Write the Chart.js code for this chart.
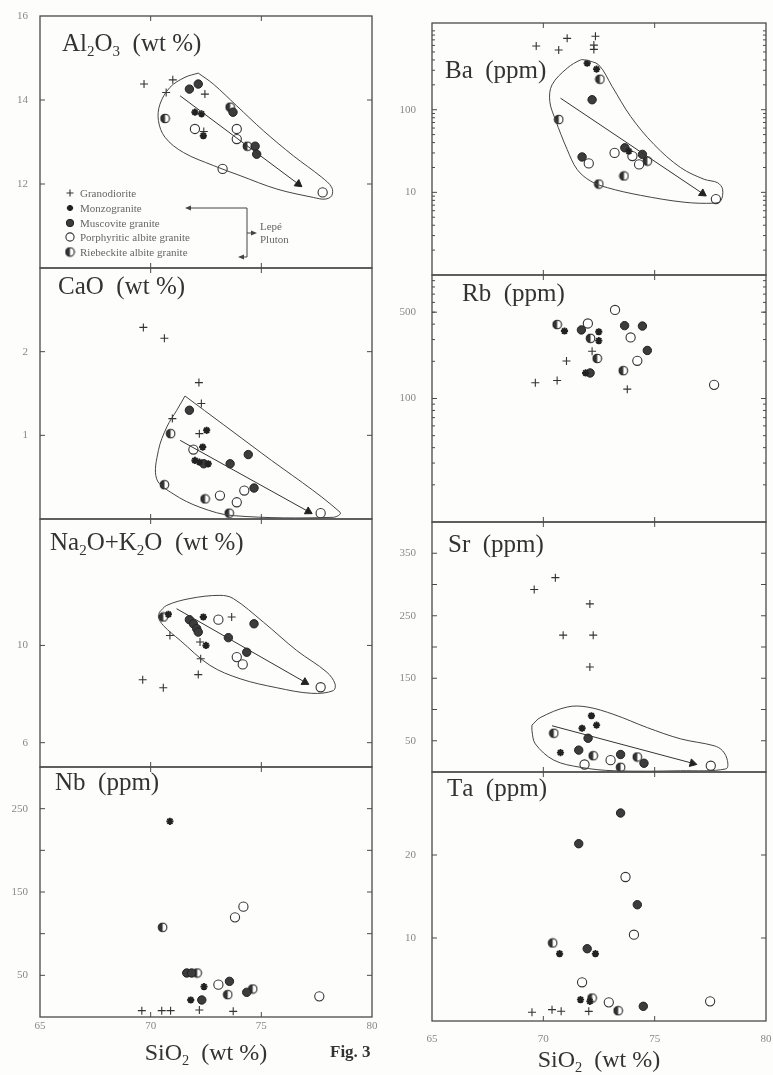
<!DOCTYPE html>
<html>
<head>
<meta charset="utf-8">
<script src="https://cdn.jsdelivr.net/npm/chart.js"></script>
<style>
  html, body { margin: 0; padding: 0; background: #fdfdfc; }
  #page { position: relative; width: 773px; height: 1075px; overflow: hidden; }
  .panel { position: absolute; }
  .panel canvas { display: block; }
</style>
</head>
<body>
<div id="page"></div>
<script>
const siTicks = [65, 70, 75, 80];
const serif = "'Liberation Serif', 'DejaVu Serif', serif";

// Al2O3 (wt %)  [SiO2, Al2O3]
const alGd = [[69.7, 14.38], [71.0, 14.48], [70.7, 14.18], [72.45, 14.14], [72.4, 13.25]];
const alMz = [[72.0, 13.71], [72.3, 13.67], [72.38, 13.15]];
const alMs = [[71.75, 14.26], [72.15, 14.38], [73.72, 13.71], [74.72, 12.9], [74.79, 12.71]];
const alPa = [[72.0, 13.31], [73.89, 13.31], [73.89, 13.07], [73.25, 12.36], [77.77, 11.8]];
const alRa = [[70.65, 13.56], [73.59, 13.83], [74.37, 12.9]];
const alTrend = [[71.33, 14.1], [76.67, 12.0]];
const alField = [[72.15, 14.64], [72.83, 14.38], [73.89, 13.86], [75.09, 13.27], [76.45, 12.67], [77.73, 12.16],
  [78.18, 11.92], [78.18, 11.72], [77.88, 11.64], [77.35, 11.68], [75.7, 11.88], [74.04, 12.2], [72.83, 12.44],
  [71.48, 12.75], [70.65, 13.11], [70.35, 13.51], [70.42, 13.9], [70.87, 14.3], [71.55, 14.54], [72.15, 14.64]];
const alTicks = [12, 14, 16];

// CaO (wt %)
const caGd = [[69.67, 2.29], [70.62, 2.16], [72.18, 1.63], [72.29, 1.38], [70.98, 1.2], [72.2, 1.02]];
const caMz = [[72.53, 1.06], [72.35, 0.86], [72.0, 0.7], [72.2, 0.68], [72.6, 0.66]];
const caMs = [[71.75, 1.3], [72.4, 0.66], [73.59, 0.66], [74.41, 0.77], [74.67, 0.37]];
const caPa = [[71.93, 0.83], [74.23, 0.34], [73.13, 0.28], [73.89, 0.2], [77.68, 0.07]];
const caRa = [[70.9, 1.02], [70.62, 0.41], [72.46, 0.24], [73.55, 0.07]];
const caTrend = [[71.33, 0.94], [77.12, 0.09]];
const caField = [[71.55, 1.47], [75.0, 0.79], [78.56, 0.08], [78.25, 0.02], [73.73, 0.04], [72.23, 0.14],
  [71.02, 0.3], [70.27, 0.48], [70.35, 0.82], [70.73, 1.1], [71.18, 1.3], [71.55, 1.47]];
const caTicks = [1, 2];

// Na2O+K2O (wt %)
const naGd = [[73.66, 11.17], [72.23, 10.14], [70.87, 10.41], [72.26, 9.45], [72.15, 8.8], [69.64, 8.59], [70.57, 8.26]];
const naMz = [[70.8, 11.28], [72.38, 11.17], [72.5, 10.0]];
const naMs = [[71.75, 11.06], [71.93, 10.89], [72.08, 10.69], [72.15, 10.55], [74.67, 10.89], [73.51, 10.32], [74.34, 9.72]];
const naPa = [[73.06, 11.06], [73.89, 9.52], [74.16, 9.22], [77.68, 8.28]];
const naRa = [[70.57, 11.17]];
const naTrend = [[71.17, 11.51], [76.97, 8.49]];
const naField = [[70.4, 11.37], [70.73, 11.65], [71.78, 11.93], [73.13, 12.06], [73.73, 11.93], [75.09, 10.96],
  [76.6, 9.79], [77.96, 8.9], [78.33, 8.42], [78.25, 8.14], [77.28, 8.03], [75.7, 8.26], [74.04, 8.63],
  [72.68, 9.18], [71.33, 10.21], [70.57, 10.82], [70.35, 11.17], [70.4, 11.37]];
const naTicks = [6, 10];

// Nb (ppm)
const nbGd = [[69.6, 7.6], [70.5, 7.6], [70.9, 7.6], [72.2, 8.4], [73.73, 6.8]];
const nbMz = [[70.87, 234.8], [72.41, 36.4], [71.81, 20.4]];
const nbMs = [[71.63, 52.8], [71.85, 52.8], [73.56, 42.8], [72.31, 20.4], [74.34, 29.6]];
const nbPa = [[73.81, 119.6], [74.19, 132.4], [73.06, 38.8], [77.62, 24.8]];
const nbRa = [[70.54, 107.6], [72.1, 52.8], [73.48, 26.8], [74.61, 33.6]];
const nbTicks = [50, 150, 250];
const nbMinor = [100, 200];

// Ba (ppm), log scale
const baGd = [[69.68, 590], [70.69, 527], [71.07, 730], [72.34, 775], [72.27, 605], [72.27, 537]];
const baMz = [[71.97, 365], [72.39, 310], [73.84, 31.5]];
const baMs = [[72.19, 132], [73.66, 34.6], [74.45, 28.8], [71.74, 26.8]];
const baPa = [[73.2, 30], [74.0, 27.5], [74.3, 21.8], [72.04, 22.4], [77.75, 8.3]];
const baRa = [[72.54, 234], [70.69, 76], [74.67, 23.9], [73.62, 15.8], [72.49, 12.6]];
const baTrend = [[70.77, 138], [77.15, 9.7]];
const baField = [[71.89, 400], [72.49, 348], [73.09, 191], [73.92, 83], [74.97, 38], [76.17, 19.9], [77.22, 14.4],
  [77.82, 13.1], [78.05, 10.9], [77.97, 7.9], [77.67, 7.4], [76.32, 7.6], [74.37, 9.2], [72.87, 11.4],
  [72.12, 13.7], [71.52, 18.9], [71.07, 33], [70.54, 76], [70.29, 126], [70.39, 200], [71.07, 318],
  [71.67, 400], [71.89, 400]];
const baTicks = [10, 100];

// Rb (ppm), log scale
const rbGd = [[72.19, 241], [71.04, 201], [69.64, 134], [70.62, 140], [73.77, 119]];
const rbMz = [[70.95, 352], [72.49, 347], [72.49, 294], [71.9, 161]];
const rbMs = [[71.71, 359], [73.65, 389], [74.45, 386], [74.67, 245], [72.1, 161]];
const rbPa = [[73.22, 521], [72.0, 405], [73.92, 312], [74.22, 202], [77.67, 129]];
const rbRa = [[70.62, 397], [72.12, 307], [72.42, 211], [73.59, 168]];
const rbTicks = [100, 500];

// Sr (ppm)
const srGd = [[69.59, 292], [70.54, 311], [72.09, 269], [70.89, 219], [72.24, 219], [72.09, 168]];
const srMz = [[72.16, 90], [72.39, 75], [71.74, 70], [70.77, 31]];
const srMs = [[72.01, 54], [71.59, 35], [73.47, 28], [74.52, 14]];
const srPa = [[71.85, 12], [73.02, 19], [77.52, 10]];
const srRa = [[70.47, 62], [72.24, 26], [73.47, 7.5], [74.22, 24]];
const srTrend = [[70.39, 74], [76.7, 14]];
const srField = [[69.49, 75], [69.86, 87], [71.07, 104], [71.97, 104], [73.17, 92], [74.67, 71], [76.17, 53],
  [77.67, 42], [78.05, 34], [78.27, 18], [78.2, 5], [76.17, 2], [73.17, 2], [71.67, 7.5], [70.47, 19],
  [69.64, 45], [69.49, 66], [69.49, 75]];
const srTicks = [50, 150, 250, 350];
const srMinor = [100, 200, 300];

// Ta (ppm)
const taGd = [[69.49, 1.05], [70.39, 1.37], [70.8, 1.17], [72.04, 1.16]];
const taMz = [[70.73, 8.11], [72.34, 8.11], [71.67, 2.57], [72.09, 2.37]];
const taMs = [[73.47, 25.06], [71.59, 21.36], [74.22, 14.01], [71.97, 8.71], [74.49, 1.77]];
const taPa = [[73.69, 17.35], [74.07, 10.4], [71.74, 4.66], [72.94, 2.25], [77.49, 2.37]];
const taRa = [[70.42, 9.4], [72.19, 2.77], [73.36, 1.24]];
const taTicks = [10, 20];

const legendNames = ['Granodiorite', 'Monzogranite', 'Muscovite granite', 'Porphyritic albite granite', 'Riebeckite albite granite'];

// half filled circle for riebeckite albite granite
function halfDot() {
  const c = document.createElement('canvas');
  c.width = 11; c.height = 11;
  const g = c.getContext('2d');
  g.beginPath(); g.arc(5.5, 5.5, 4.3, 0, Math.PI * 2); g.fillStyle = '#fff'; g.fill();
  g.beginPath(); g.moveTo(5.5, 5.5); g.arc(5.5, 5.5, 4.3, Math.PI * 0.5, Math.PI * 1.5); g.closePath();
  g.fillStyle = '#333'; g.fill();
  g.beginPath(); g.arc(5.5, 5.5, 4.3, 0, Math.PI * 2); g.strokeStyle = '#222'; g.lineWidth = 1.1; g.stroke();
  return c;
}
const raDot = halfDot();

const sty = [
  {pointStyle: 'cross', pointRadius: 4, pointBorderWidth: 1.1, pointBorderColor: '#333', pointBackgroundColor: '#333'},
  {pointStyle: 'star', pointRadius: 3.6, pointBorderWidth: 1.9, pointBorderColor: '#222', pointBackgroundColor: '#222'},
  {pointStyle: 'circle', pointRadius: 4.2, pointBorderWidth: 1, pointBorderColor: '#222', pointBackgroundColor: '#3c3c3c'},
  {pointStyle: 'circle', pointRadius: 4.6, pointBorderWidth: 1.1, pointBorderColor: '#333', pointBackgroundColor: '#fff'},
  {pointStyle: raDot, pointRadius: 5, pointBorderWidth: 0}
];

const xy = arr => arr.map(p => ({x: p[0], y: p[1]}));

function makeSets(groups, field, trend) {
  const out = [];
  if (field) out.push({data: xy(field), showLine: true, pointRadius: 0, borderColor: '#444', borderWidth: 1, tension: 0.35, clip: false});
  if (trend) out.push({
    data: xy(trend), showLine: true, borderColor: '#333', borderWidth: 1, clip: false,
    pointStyle: 'triangle', pointBackgroundColor: '#222', pointBorderColor: '#222', pointBorderWidth: 1,
    pointRadius: c => c.dataIndex === 1 ? 4.5 : 0,
    pointRotation: c => {
      const ch = c.chart, d = c.dataset.data;
      const dx = ch.scales.x.getPixelForValue(d[1].x) - ch.scales.x.getPixelForValue(d[0].x);
      const dy = ch.scales.y.getPixelForValue(d[1].y) - ch.scales.y.getPixelForValue(d[0].y);
      return Math.atan2(dx, -dy) * 180 / Math.PI;
    }
  });
  groups.forEach((g, i) => out.push(Object.assign({data: xy(g), clip: false}, sty[i])));
  return out;
}

function drawRich(ctx, str, x, y, size) {
  let cx = x;
  for (let i = 0; i < str.length; i++) {
    let ch = str[i], sub = false;
    if (ch === '_') { sub = true; ch = str[++i]; }
    const s = sub ? size * 0.6 : size;
    ctx.font = s + 'px ' + serif;
    ctx.fillText(ch, cx, sub ? y + size * 0.2 : y);
    cx += ctx.measureText(ch).width;
  }
  return cx - x;
}
function richWidth(ctx, str, size) {
  let w = 0;
  for (let i = 0; i < str.length; i++) {
    let ch = str[i], sub = false;
    if (ch === '_') { sub = true; ch = str[++i]; }
    ctx.font = (sub ? size * 0.6 : size) + 'px ' + serif;
    w += ctx.measureText(ch).width;
  }
  return w;
}

function seg(ctx, x1, y1, x2, y2) { ctx.beginPath(); ctx.moveTo(x1, y1); ctx.lineTo(x2, y2); ctx.stroke(); }
function head(ctx, x, y, dir) {
  ctx.beginPath(); ctx.moveTo(x, y); ctx.lineTo(x - dir * 6, y - 2.5); ctx.lineTo(x - dir * 6, y + 2.5); ctx.closePath(); ctx.fill();
}

const deco = {
  id: 'deco',
  afterDraw(chart, args, o) {
    const ctx = chart.ctx, a = chart.chartArea;
    const xs = chart.scales.x, ys = chart.scales.y;
    ctx.save();
    ctx.strokeStyle = '#4a4a4a'; ctx.lineWidth = 1.3;
    ctx.strokeRect(a.left, a.top, a.right - a.left, a.bottom - a.top);
    ctx.lineWidth = 1;
    ctx.font = '11px ' + serif; ctx.fillStyle = '#888';
    ctx.textAlign = 'center'; ctx.textBaseline = 'top';
    siTicks.forEach(v => {
      const px = xs.getPixelForValue(v);
      if (o.xTitle) ctx.fillText(String(v), px, a.bottom + o.xPad);
      if (px <= a.left + 1 || px >= a.right - 1) return;
      seg(ctx, px, a.top, px, a.top + 5); seg(ctx, px, a.bottom, px, a.bottom - 5);
    });
    ctx.textAlign = 'right'; ctx.textBaseline = 'middle';
    o.ticks.forEach(v => {
      const py = ys.getPixelForValue(v);
      ctx.fillText(String(v), a.left - o.yPad, py);
      if (py <= a.top + 1 || py >= a.bottom - 1) return;
      seg(ctx, a.left, py, a.left + 5, py); seg(ctx, a.right, py, a.right - 5, py);
    });
    // unlabeled ticks
    let minor = o.minor || [];
    if (o.log) {
      minor = [];
      for (let d = o.min; d < o.max; d *= 10) for (let k = 2; k <= 9; k++) if (d * k <= o.max) minor.push(d * k);
    }
    minor.forEach(v => {
      const py = ys.getPixelForValue(v);
      const len = o.log ? 3 : 5;
      seg(ctx, a.left, py, a.left + len, py); seg(ctx, a.right, py, a.right - len, py);
    });
    ctx.fillStyle = '#333'; ctx.textBaseline = 'alphabetic'; ctx.textAlign = 'left';
    drawRich(ctx, o.title, a.left + o.tx, a.top + o.ty, 25);
    if (o.xTitle) {
      const w = richWidth(ctx, 'SiO_2  (wt %)', 24);
      drawRich(ctx, 'SiO_2  (wt %)', (a.left + a.right) / 2 - w / 2, a.bottom + o.xTitle, 24);
    }
    if (o.fig) {
      ctx.font = 'bold 17px ' + serif;
      ctx.fillText('Fig. 3', a.left + 290, a.bottom + 40);
    }
    if (o.legend) {
      const rows = [177, 192, 207, 221, 236];
      ctx.font = '11px ' + serif;
      rows.forEach((ry, i) => {
        const s = sty[i];
        ctx.strokeStyle = s.pointBorderColor || '#222'; ctx.fillStyle = s.pointBackgroundColor || '#222';
        ctx.lineWidth = s.pointBorderWidth || 1;
        Chart.helpers.drawPoint(ctx, {pointStyle: s.pointStyle, radius: s.pointRadius - 0.5, borderWidth: s.pointBorderWidth, rotation: 0}, a.left + 30, a.top + ry);
        ctx.fillStyle = '#666'; ctx.textBaseline = 'middle';
        ctx.fillText(legendNames[i], a.left + 40, a.top + ry + 1);
      });
      ctx.strokeStyle = '#444'; ctx.fillStyle = '#444'; ctx.lineWidth = 1;
      const bx = a.left + 207;
      seg(ctx, bx, a.top + 192, a.left + 150, a.top + 192); head(ctx, a.left + 145, a.top + 192, -1);
      seg(ctx, bx, a.top + 192, bx, a.top + 241);
      seg(ctx, bx, a.top + 241, a.left + 203, a.top + 241); head(ctx, a.left + 198, a.top + 241, -1);
      seg(ctx, bx, a.top + 217, a.left + 212, a.top + 217); head(ctx, a.left + 217, a.top + 217, 1);
      ctx.fillStyle = '#666'; ctx.textBaseline = 'alphabetic';
      ctx.fillText('Lepé', a.left + 220, a.top + 214);
      ctx.fillText('Pluton', a.left + 220, a.top + 227);
    }
    ctx.restore();
  }
};

const cols = [
  {left: 40, right: 372, yPad: 12, xPad: 4},
  {left: 432, right: 766, yPad: 16, xPad: 13}
];

const panels = [
  {col: 0, top: 16, bottom: 268, min: 10, max: 16, ticks: alTicks, title: 'Al_2O_3  (wt %)', tx: 22, ty: 35, legend: true,
    sets: makeSets([alGd, alMz, alMs, alPa, alRa], alField, alTrend)},
  {col: 0, top: 268, bottom: 519, min: 0, max: 3, ticks: caTicks, title: 'CaO  (wt %)', tx: 18, ty: 26,
    sets: makeSets([caGd, caMz, caMs, caPa, caRa], caField, caTrend)},
  {col: 0, top: 519, bottom: 767, min: 5, max: 15.2, ticks: naTicks, title: 'Na_2O+K_2O  (wt %)', tx: 10, ty: 31,
    sets: makeSets([naGd, naMz, naMs, naPa, naRa], naField, naTrend)},
  {col: 0, top: 767, bottom: 1017, min: 0, max: 300, ticks: nbTicks, minor: nbMinor, title: 'Nb  (ppm)', tx: 15, ty: 23, xTitle: 43, fig: true,
    sets: makeSets([nbGd, nbMz, nbMs, nbPa, nbRa])},
  {col: 1, top: 23, bottom: 275, min: 1, max: 1120, log: true, ticks: baTicks, title: 'Ba  (ppm)', tx: 13, ty: 55,
    sets: makeSets([baGd, baMz, baMs, baPa, baRa], baField, baTrend)},
  {col: 1, top: 275, bottom: 522, min: 10, max: 1000, log: true, ticks: rbTicks, title: 'Rb  (ppm)', tx: 30, ty: 26,
    sets: makeSets([rbGd, rbMz, rbMs, rbPa, rbRa])},
  {col: 1, top: 522, bottom: 772, min: 0, max: 400, ticks: srTicks, minor: srMinor, title: 'Sr  (ppm)', tx: 16, ty: 30,
    sets: makeSets([srGd, srMz, srMs, srPa, srRa], srField, srTrend)},
  {col: 1, top: 772, bottom: 1021, min: 0, max: 30, ticks: taTicks, title: 'Ta  (ppm)', tx: 15, ty: 24, xTitle: 46,
    sets: makeSets([taGd, taMz, taMs, taPa, taRa])}
];

const page = document.getElementById('page');

panels.forEach(p => {
  const c = cols[p.col];
  p.yPad = c.yPad; p.xPad = c.xPad;
  const padB = p.xTitle ? 58 : 8;
  const div = document.createElement('div');
  div.className = 'panel';
  const w = 40 + (c.right - c.left) + 8;
  const h = 8 + (p.bottom - p.top) + padB;
  div.style.left = (c.left - 40) + 'px';
  div.style.top = (p.top - 8) + 'px';
  const cv = document.createElement('canvas');
  cv.width = w; cv.height = h;
  div.appendChild(cv);
  page.appendChild(div);

  new Chart(cv, {
    type: 'scatter',
    data: {datasets: p.sets},
    options: {
      responsive: false,
      animation: false,
      devicePixelRatio: 1,
      layout: {padding: {top: 8, right: 8, left: 40, bottom: padB}},
      plugins: {legend: {display: false}, tooltip: {enabled: false}, deco: p},
      scales: {
        x: {type: 'linear', min: 65, max: 80, display: false},
        y: {type: p.log ? 'logarithmic' : 'linear', min: p.min, max: p.max, display: false}
      }
    },
    plugins: [deco]
  });
});
</script>
</body>
</html>
